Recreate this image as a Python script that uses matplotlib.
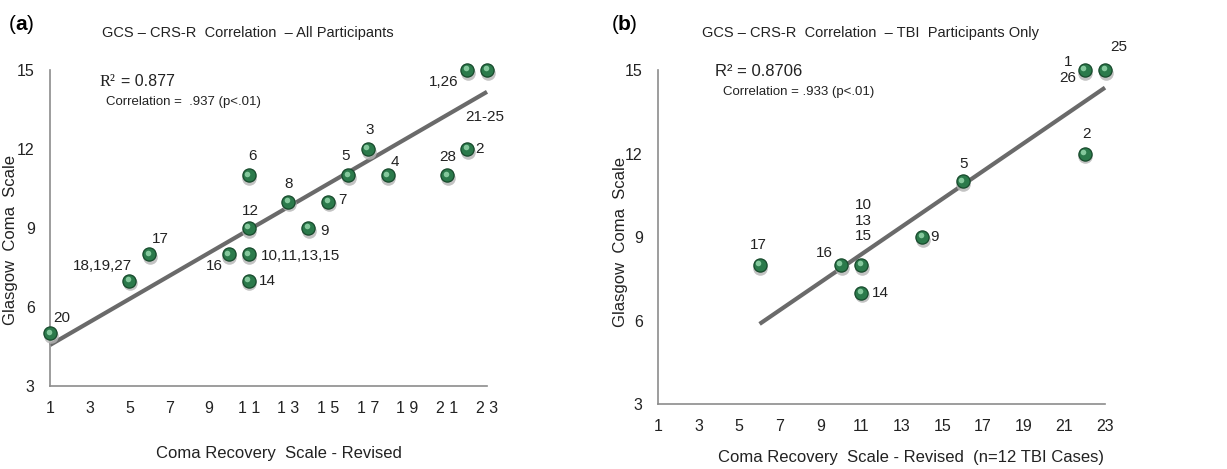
import matplotlib
matplotlib.use("Agg")
import matplotlib.pyplot as plt
import matplotlib.transforms as mtrans
from matplotlib import font_manager as fm

names = {f.name for f in fm.fontManager.ttflist}
NARROW = 'Liberation Sans Narrow' if 'Liberation Sans Narrow' in names else 'Liberation Sans'
plt.rcParams['font.family'] = [NARROW, 'DejaVu Sans']

# ---------------- data: panel (a) all participants ----------------
a_crs = [1, 5, 6, 10, 11, 11, 11, 11, 13, 14, 15, 16, 17, 18, 21, 22, 22, 23]
a_gcs = [5, 7, 8, 8, 8, 7, 9, 11, 10, 9, 10, 11, 12, 11, 11, 12, 15, 15]
a_lbl = ["20", "18,19,27", "17", "16", "10,11,13,15", "14", "12", "6", "8", "9",
         "7", "5", "3", "4", "28", "2", "1,26", "21-25"]
a_fit_slope = 0.437
a_fit_icpt = 4.12
a_fit_x = [1, 23]

# ---------------- data: panel (b) TBI participants ----------------
b_crs = [6, 10, 11, 11, 14, 16, 22, 22, 23]
b_gcs = [8, 8, 8, 7, 9, 11, 12, 15, 15]
b_lbl = ["17", "16", "10\n13\n15", "14", "9", "5", "2", "1\n26", "25"]
b_fit_slope = 0.4994
b_fit_icpt = 2.88
b_fit_x = [6, 23]

x_ticks = [1, 3, 5, 7, 9, 11, 13, 15, 17, 19, 21, 23]
x_ticklabels = ["1", "3", "5", "7", "9", "1 1", "1 3", "1 5", "1 7", "1 9", "2 1", "2 3"]
x_ticklabels_b = ["1", "3", "5", "7", "9", "11", "13", "15", "17", "19", "21", "23"]
y_ticks = [3, 6, 9, 12, 15]

PX = 0.72  # points per pixel at dpi 100

# label placement (pixels): dx, dy, ha
a_pos = [(3, 15, 'left'), (3, 15, 'right'), (3, 15, 'left'), (-6, -12, 'right'),
         (12, -2, 'left'), (10, 0, 'left'), (2, 17, 'center'), (4, 19, 'center'),
         (0, 18, 'center'), (12, -3, 'left'), (10, 2, 'left'), (-2, 19, 'center'),
         (2, 19, 'center'), (3, 13, 'left'), (0, 18, 'center'), (8, 0, 'left'),
         (-9, -12, 'right'), (-2, -47, 'center')]
b_pos = [(-1, 20, 'center'), (-16, 12, 'center'), (2, 44, 'center'), (11, 0, 'left'),
         (8, 0, 'left'), (1, 17, 'center'), (2, 20, 'center'), (-17, 0, 'center'),
         (5, 23, 'left')]

W, H = 1227, 469
fig = plt.figure(figsize=(W / 100, H / 100), dpi=100)
ax_a = fig.add_axes([50 / W, (H - 386) / H, 437 / W, 316 / H])
ax_b = fig.add_axes([658 / W, (H - 404) / H, 447 / W, 334 / H])

AXC = '#8c8c8c'
TXT = '#222222'


def ftext(x, y, s, **kw):
    return fig.text(x / W, 1 - y / H, s, **kw)


def spheres(ax, xs, ys):
    shadow = mtrans.offset_copy(ax.transData, fig=fig, x=0.5, y=-2.0, units='points')
    ax.plot(xs, ys, 'o', ms=10.5, color='#b5b5b5', mec='none', alpha=0.8,
            transform=shadow, clip_on=False, zorder=3)
    ax.plot(xs, ys, 'o', ms=9.5, color='#2b7a4b', mec='#174a2c', mew=0.9,
            clip_on=False, zorder=4)
    hl = mtrans.offset_copy(ax.transData, fig=fig, x=-1.0, y=1.2, units='points')
    ax.plot(xs, ys, 'o', ms=4.0, color='#8fd1a6', mec='none', alpha=0.9,
            transform=hl, clip_on=False, zorder=5)


def style(ax, xtl):
    ax.set_xlim(1, 23)
    ax.set_ylim(3, 15)
    for s in ('top', 'right'):
        ax.spines[s].set_visible(False)
    for s in ('left', 'bottom'):
        ax.spines[s].set_color(AXC)
        ax.spines[s].set_linewidth(1.2)
    ax.set_xticks(x_ticks)
    ax.set_xticklabels(xtl)
    ax.set_yticks(y_ticks)
    ax.tick_params(length=0, labelsize=11.5, colors=TXT)
    ax.tick_params(axis='x', pad=11)
    ax.tick_params(axis='y', pad=11)


YLAB = "Glasgow  Coma  Scale"

# ---- panel a ----
style(ax_a, x_ticklabels)
ax_a.plot(a_fit_x, [a_fit_icpt + a_fit_slope * x for x in a_fit_x],
          color='#6a6a6a', lw=3, solid_capstyle='butt', zorder=2, clip_on=False)
spheres(ax_a, a_crs, a_gcs)
for x, y, t, (dx, dy, ha) in zip(a_crs, a_gcs, a_lbl, a_pos):
    ax_a.annotate(t, (x, y), xytext=(dx * PX, dy * PX), textcoords='offset points',
                  ha=ha, va='center', fontsize=11, color=TXT, annotation_clip=False)
ftext(11, 240, YLAB, fontsize=12, color=TXT, rotation=90, ha='center', va='center')
ftext(279, 453, "Coma Recovery  Scale - Revised", fontsize=12, color=TXT,
      ha='center', va='center')
ftext(100, 82, "R\u00b2", fontsize=12, color=TXT, va='center',
      family=['Liberation Serif', 'DejaVu Serif'])
ftext(121, 82, "= 0.877", fontsize=11.5, color=TXT, va='center')
ftext(106, 102, "Correlation =  .937 (p<.01)", fontsize=9.5, color=TXT, va='center')
ftext(248, 33, "GCS \u2013 CRS-R  Correlation  \u2013 All Participants",
      fontsize=10.5, color=TXT, ha='center', va='center')

# ---- panel b ----
style(ax_b, x_ticklabels_b)
ax_b.plot(b_fit_x, [b_fit_icpt + b_fit_slope * x for x in b_fit_x],
          color='#6a6a6a', lw=3, solid_capstyle='butt', zorder=2, clip_on=False)
spheres(ax_b, b_crs, b_gcs)
for x, y, t, (dx, dy, ha) in zip(b_crs, b_gcs, b_lbl, b_pos):
    ax_b.annotate(t, (x, y), xytext=(dx * PX, dy * PX), textcoords='offset points',
                  ha=ha, va='center', fontsize=11, color=TXT, annotation_clip=False,
                  linespacing=1.15, multialignment='center')
ftext(621, 242, YLAB, fontsize=12, color=TXT, rotation=90, ha='center', va='center')
ftext(911, 457, "Coma Recovery  Scale - Revised  (n=12 TBI Cases)", fontsize=12,
      color=TXT, ha='center', va='center')
ftext(715, 72, "R\u00b2 = 0.8706", fontsize=12, color=TXT, va='center')
ftext(723, 92, "Correlation = .933 (p<.01)", fontsize=9.5, color=TXT, va='center')
ftext(870, 33, "GCS \u2013 CRS-R  Correlation  \u2013 TBI  Participants Only",
      fontsize=10.5, color=TXT, ha='center', va='center')

# panel letters
for x0, letter in ((9, 'a'), (612, 'b')):
    ftext(x0, 25, "(", fontsize=15, color='black', va='center')
    ftext(x0 + 6, 25, letter, fontsize=15, weight='bold', color='black', va='center')
    ftext(x0 + 18, 25, ")", fontsize=15, color='black', va='center')

fig.savefig("out.png", dpi=100, facecolor='white')
